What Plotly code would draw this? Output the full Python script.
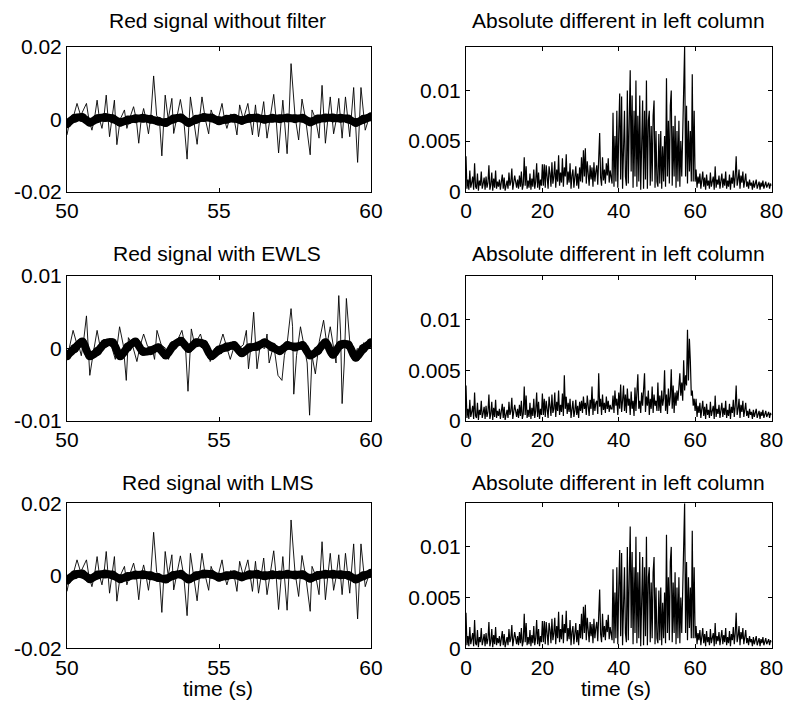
import numpy as np
import plotly.graph_objects as go
from plotly.subplots import make_subplots

# ---------------- data ----------------
# Left column: red signal (thin) between 50 s and 60 s
raw_t = [50.00, 50.10, 50.22, 50.33, 50.45, 50.64, 50.72, 50.82, 50.90, 50.99, 51.07, 51.15, 51.22, 51.29,
         51.40, 51.48, 51.56, 51.64, 51.75, 51.89, 51.97, 52.05, 52.19, 52.28, 52.36, 52.44, 52.52, 52.60,
         52.68, 52.76, 52.85, 52.95, 53.04, 53.12, 53.23, 53.33, 53.45, 53.51, 53.60, 53.73, 53.84, 53.95,
         54.06, 54.17, 54.28, 54.36, 54.44, 54.55, 54.66, 54.74, 54.85, 54.97, 55.10, 55.18, 55.26, 55.39,
         55.50, 55.59, 55.68, 55.80, 55.95, 56.10, 56.20, 56.30, 56.38, 56.47, 56.58, 56.68, 56.80, 56.88,
         56.96, 57.10, 57.24, 57.30, 57.37, 57.50, 57.62, 57.73, 57.85, 58.00, 58.06, 58.18, 58.29, 58.39,
         58.50, 58.58, 58.66, 58.77, 58.86, 58.94, 59.05, 59.16, 59.30, 59.43, 59.56, 59.67, 59.81, 59.92, 60.00]
raw_v = [-0.0043, 0.0000, 0.0010, 0.0044, 0.0010, 0.0044, 0.0000, -0.0030, 0.0000, 0.0053, 0.0000, -0.0025, 0.0010, 0.0067,
         -0.0048, 0.0010, 0.0053, -0.0070, 0.0000, 0.0026, -0.0025, 0.0000, 0.0035, 0.0000, -0.0066, 0.0000, 0.0030, 0.0000,
         -0.0040, 0.0010, 0.0120, 0.0010, 0.0000, -0.0101, 0.0067, 0.0000, 0.0058, -0.0039, 0.0000, 0.0055, 0.0000, -0.0110,
         0.0062, 0.0000, -0.0069, 0.0000, 0.0062, 0.0000, -0.0040, 0.0026, 0.0000, 0.0000, 0.0044, 0.0000, -0.0025, 0.0015,
         0.0000, -0.0043, 0.0040, 0.0000, 0.0044, -0.0043, 0.0040, -0.0048, 0.0000, 0.0049, -0.0052, 0.0000, 0.0069, 0.0000,
         -0.0093, 0.0053, -0.0095, 0.0000, 0.0154, 0.0010, -0.0057, 0.0056, 0.0000, -0.0098, 0.0026, 0.0000, -0.0052, 0.0094,
         -0.0066, 0.0000, 0.0062, -0.0040, 0.0000, 0.0058, -0.0052, 0.0062, -0.0048, 0.0088, -0.0119, 0.0088, -0.0030, 0.0000, 0.0010]

# smooth reference (thick line) sampled every 0.25 s
smooth_t = [50.00, 50.25, 50.50, 50.75, 51.00, 51.25, 51.50, 51.75, 52.00, 52.25, 52.50, 52.75, 53.00, 53.25,
            53.50, 53.75, 54.00, 54.25, 54.50, 54.75, 55.00, 55.25, 55.50, 55.75, 56.00, 56.25, 56.50, 56.75,
            57.00, 57.25, 57.50, 57.75, 58.00, 58.25, 58.50, 58.75, 59.00, 59.25, 59.50, 59.75, 60.00]
smooth_raw = [-0.0012, 0.0003, 0.0005, -0.0008, 0.0002, 0.0005, 0.0002, -0.0008, -0.0002, 0.0002, 0.0003, 0.0000,
              -0.0005, -0.0009, 0.0001, 0.0004, -0.0009, 0.0000, 0.0005, 0.0004, -0.0004, 0.0000, 0.0003, -0.0003,
              0.0003, 0.0004, 0.0000, 0.0003, 0.0002, 0.0004, 0.0002, 0.0003, -0.0007, 0.0001, 0.0004, 0.0004,
              0.0003, 0.0001, -0.0009, 0.0000, 0.0007]
smooth_ewls = [-0.0010, 0.0000, 0.0009, -0.0010, -0.0004, 0.0007, 0.0008, -0.0010, 0.0002, 0.0009, -0.0004, -0.0003,
               0.0001, -0.0009, 0.0004, 0.0010, 0.0000, 0.0008, 0.0006, -0.0010, -0.0002, 0.0002, 0.0004, -0.0006,
               0.0001, 0.0003, 0.0008, 0.0002, -0.0003, 0.0004, 0.0002, 0.0004, -0.0009, -0.0003, 0.0008, -0.0008,
               0.0005, 0.0005, -0.0012, 0.0000, 0.0008]

ewls_t = [50.00, 50.10, 50.20, 50.30, 50.40, 50.47, 50.55, 50.64, 50.70, 50.75, 50.85, 50.99, 51.10, 51.30,
          51.45, 51.59, 51.73, 51.85, 51.95, 52.02, 52.15, 52.30, 52.40, 52.52, 52.65, 52.80, 52.88, 52.96,
          53.10, 53.25, 53.34, 53.45, 53.60, 53.78, 53.90, 53.98, 54.09, 54.20, 54.39, 54.50, 54.60, 54.71,
          54.85, 55.00, 55.13, 55.25, 55.37, 55.50, 55.65, 55.80, 55.90, 55.97, 56.05, 56.14, 56.25, 56.35,
          56.50, 56.58, 56.65, 56.80, 56.94, 57.07, 57.15, 57.25, 57.37, 57.42, 57.46, 57.55, 57.68, 57.80,
          57.90, 57.98, 58.06, 58.17, 58.30, 58.44, 58.55, 58.66, 58.75, 58.85, 58.94, 59.00, 59.05, 59.12,
          59.19, 59.30, 59.43, 59.55, 59.65, 59.76, 59.88, 60.00]
ewls_v = [-0.0014, 0.0005, 0.0025, 0.0010, 0.0002, -0.0010, 0.0012, 0.0045, 0.0008, -0.0037, -0.0010, 0.0025, 0.0000, 0.0010,
          0.0005, -0.0015, 0.0030, 0.0005, -0.0044, 0.0015, 0.0005, -0.0018, 0.0003, 0.0020, 0.0003, 0.0000, -0.0015, 0.0025,
          0.0005, 0.0000, -0.0015, 0.0003, 0.0008, 0.0025, 0.0000, -0.0059, 0.0027, 0.0005, 0.0020, 0.0003, 0.0005, -0.0018,
          0.0000, 0.0002, 0.0020, 0.0002, -0.0015, 0.0003, 0.0000, 0.0005, 0.0025, -0.0028, 0.0003, 0.0050, -0.0028, 0.0003,
          0.0000, 0.0020, -0.0020, 0.0005, -0.0037, -0.0044, -0.0010, 0.0010, 0.0055, 0.0030, -0.0063, -0.0010, 0.0030, 0.0003,
          -0.0020, -0.0092, -0.0010, -0.0035, 0.0010, 0.0039, 0.0005, 0.0030, 0.0005, -0.0020, 0.0073, 0.0020, -0.0076, -0.0020,
          0.0069, 0.0010, -0.0015, 0.0000, -0.0005, 0.0008, 0.0002, 0.0008]

# LMS panel shows the same signal as the unfiltered one
lms_t = raw_t
lms_v = raw_v
smooth_lms = smooth_raw

# Right column: absolute difference in units of 1e-3, sampled every 0.25 s from 0 to 80 s
absdiff_raw_milli = [
    # 0 - 20 s
    3.5, 0.3, 1.2, 0.2, 2.1, 0.4, 0.9, 1.5, 0.2, 2.8, 0.5, 0.3, 1.8, 0.1, 1.1, 0.6, 2.0, 0.3, 0.8, 1.4,
    0.2, 1.5, 0.4, 0.9, 2.6, 0.2, 0.7, 1.9, 0.1, 1.3, 0.4, 2.1, 0.3, 1.0, 0.5, 1.2, 0.2, 0.9, 1.7, 0.3,
    1.4, 0.1, 0.8, 1.1, 0.3, 1.9, 0.6, 1.0, 2.3, 0.2, 0.9, 1.6, 1.0, 0.4, 1.2, 0.3, 1.6, 0.5, 2.0, 0.2,
    0.7, 3.4, 0.6, 2.5, 0.3, 1.1, 0.4, 1.8, 0.2, 1.3, 0.5, 2.2, 0.3, 1.0, 2.8, 0.4, 1.9, 0.2, 1.2, 0.6,
    2.7,
    # 20.25 - 30 s
    0.6, 2.7, 0.4, 2.6, 1.2, 0.3, 2.5, 1.8, 0.5, 2.9, 0.8, 1.5, 3.0, 0.4, 2.2, 1.0, 3.6, 0.6, 1.9, 0.9,
    3.3, 0.5, 2.4, 1.5, 3.7, 0.7, 2.0, 0.9, 2.8, 0.3, 1.6, 2.2, 0.4, 1.2, 2.5, 0.6, 1.8, 0.3, 2.4, 1.0,
    # 30.25 - 38 s
    3.4, 0.9, 4.1, 1.5, 4.3, 0.8, 3.0, 1.8, 0.6, 2.6, 1.2, 2.4, 0.5, 2.9, 1.0, 2.0,
    2.6, 0.7, 3.2, 5.8, 1.4, 0.6, 3.4, 1.1, 2.2, 0.8, 2.8, 1.6, 3.3, 0.9, 2.1, 1.2,
    # 38.25 - 50 s
    0.8, 7.8, 0.5, 5.5, 1.0, 8.0, 0.4, 6.0, 9.7, 1.2, 9.4, 0.3, 6.5, 8.0, 1.5, 0.6, 10.0, 0.8, 7.0, 12.0,
    2.0, 9.5, 0.4, 8.0, 1.5, 11.0, 0.5, 7.5, 1.0, 9.5, 0.2, 6.0, 9.0, 0.3, 8.0, 1.2, 11.0, 0.3, 7.0, 8.0,
    0.6, 6.5, 1.0, 7.5, 9.0, 0.4, 6.0, 1.0,
    # 50.25 - 60 s
    0.5, 5.7, 0.8, 6.0, 0.3, 4.5, 1.0, 5.5, 0.5, 11.2, 1.5, 7.0, 0.8, 8.5, 10.0, 0.6, 6.5, 1.5, 7.5, 0.4,
    6.0, 1.0, 7.0, 0.5, 5.0, 1.5, 6.5, 9.5, 14.3, 1.5, 8.5, 0.8, 7.0, 2.0, 6.0, 1.0, 11.6, 1.0, 8.0, 1.0,
    # 60.25 - 80 s
    2.2, 0.4, 1.5, 0.8, 1.8, 0.3, 1.2, 2.0, 0.5, 1.4, 0.2, 1.7, 0.6, 1.1, 0.3, 1.9, 0.5, 0.9, 1.5, 0.2,
    2.5, 0.4, 1.2, 0.7, 1.6, 0.3, 1.0, 1.8, 0.4, 1.3, 0.6, 2.0, 0.3, 1.1, 0.5, 1.7, 0.2, 1.4, 0.8, 2.1,
    0.4, 1.5, 3.5, 0.6, 1.2, 2.2, 0.3, 1.6, 0.9, 2.0, 0.4, 1.3, 1.8, 0.5, 1.0, 0.3, 1.2, 0.6, 0.9, 0.2,
    1.1, 0.4, 0.8, 1.2, 0.3, 0.7, 1.0, 0.2, 0.9, 0.5, 1.1, 0.3, 0.8, 1.0, 0.4, 0.7, 0.9, 0.3, 0.8, 0.6]
absdiff_ewls_milli = [
    # 0 - 20 s
    3.5, 0.3, 1.2, 0.2, 2.1, 0.4, 0.9, 1.5, 0.2, 2.8, 0.5, 0.3, 1.8, 0.1, 1.1, 0.6, 2.0, 0.3, 0.8, 1.4,
    0.2, 1.5, 0.4, 0.9, 2.6, 0.2, 0.7, 1.9, 0.1, 1.3, 0.4, 2.1, 0.3, 1.0, 0.5, 1.2, 0.2, 0.9, 1.7, 0.3,
    1.4, 0.1, 0.8, 1.1, 0.3, 1.9, 0.6, 1.0, 2.3, 0.2, 0.9, 1.6, 1.0, 0.4, 1.2, 0.3, 1.6, 0.5, 2.0, 0.2,
    0.7, 3.4, 0.6, 2.5, 0.3, 1.1, 0.4, 1.8, 0.2, 1.3, 0.5, 2.2, 0.3, 1.0, 2.8, 0.4, 1.9, 0.2, 1.2, 0.6,
    2.7,
    # 20.25 - 30 s
    0.6, 2.2, 0.4, 2.0, 1.0, 0.3, 2.4, 1.5, 0.5, 2.6, 0.8, 1.2, 2.8, 0.4, 1.9, 1.0, 3.0, 0.6, 1.6, 0.9,
    2.7, 0.5, 4.5, 1.2, 2.4, 0.7, 1.8, 0.9, 2.2, 0.3, 1.4, 2.0, 0.4, 1.0, 2.1, 0.6, 1.5, 0.3, 1.9, 1.0,
    # 30.25 - 38 s
    2.0, 0.8, 2.4, 1.2, 1.8, 0.6, 2.5, 1.0, 0.5, 2.1, 1.2, 3.4, 0.6, 2.2, 1.0, 1.8,
    2.0, 0.7, 4.7, 1.4, 2.2, 0.6, 2.6, 1.1, 1.8, 0.8, 2.4, 1.2, 2.0, 0.9, 1.6, 1.2,
    # 38.25 - 50 s
    1.2, 2.5, 0.8, 3.0, 1.5, 2.2, 0.6, 2.8, 1.2, 3.6, 0.9, 2.0, 3.5, 1.0, 2.6, 0.8, 3.2, 1.5, 2.2, 0.6,
    2.9, 1.2, 2.0, 0.5, 3.3, 1.0, 2.6, 4.6, 1.2, 2.0, 0.8, 2.8, 1.5, 3.6, 4.7, 0.9, 2.4, 1.5, 3.0, 0.6,
    2.2, 1.2, 3.4, 0.8, 2.6, 1.5, 2.0, 1.0,
    # 50.25 - 60 s
    3.8, 1.0, 2.5, 0.8, 3.0, 1.5, 2.2, 5.0, 1.0, 2.6, 0.7, 3.2, 1.5, 2.4, 5.1, 1.2, 3.5, 0.8, 2.8, 1.5,
    3.0, 2.0, 3.6, 4.7, 2.5, 3.8, 2.0, 6.0, 3.0, 4.5, 3.5, 9.0, 4.0, 8.1, 5.9, 2.5, 3.0, 1.5, 2.2, 1.0,
    # 60.25 - 80 s
    2.2, 0.4, 1.5, 0.8, 1.8, 0.3, 1.2, 2.0, 0.5, 1.4, 0.2, 1.7, 0.6, 1.1, 0.3, 1.9, 0.5, 0.9, 1.5, 0.2,
    2.5, 0.4, 1.2, 0.7, 1.6, 0.3, 1.0, 1.8, 0.4, 1.3, 0.6, 2.0, 0.3, 1.1, 0.5, 1.7, 0.2, 1.4, 0.8, 2.1,
    0.4, 1.5, 3.5, 0.6, 1.2, 2.2, 0.3, 1.6, 0.9, 2.0, 0.4, 1.3, 1.8, 0.5, 1.0, 0.3, 1.2, 0.6, 0.9, 0.2,
    1.1, 0.4, 0.8, 1.2, 0.3, 0.7, 1.0, 0.2, 0.9, 0.5, 1.1, 0.3, 0.8, 1.0, 0.4, 0.7, 0.9, 0.3, 0.8, 0.6]
absdiff_lms_milli = absdiff_raw_milli
diff_step_s = 0.25

left_titles = ["Red signal without filter", "Red signal with EWLS", "Red signal with LMS"]
right_title = "Absolute different in left column"
left_yticks = [[-0.02, 0, 0.02], [-0.01, 0, 0.01], [-0.02, 0, 0.02]]
left_yticktext = [["-0.02", "0", "0.02"], ["-0.01", "0", "0.01"], ["-0.02", "0", "0.02"]]
right_yticks = [0, 0.005, 0.01]
right_yticktext = ["0", "0.005", "0.01"]
left_xticks = [50, 55, 60]
right_xticks = [0, 20, 40, 60, 80]
xlabel = "time (s)"

# ---------------- figure ----------------
W, H = 785, 716
FONT = "Liberation Sans, Arial, sans-serif"
FS_TICK = 21
FS_TITLE = 21

fig = make_subplots(rows=3, cols=2)

left_sets = [(raw_t, raw_v, smooth_raw), (ewls_t, ewls_v, smooth_ewls), (lms_t, lms_v, smooth_lms)]
right_sets = [absdiff_raw_milli, absdiff_ewls_milli, absdiff_lms_milli]

for i in range(3):
    t, v, s = left_sets[i]
    fig.add_trace(go.Scatter(x=t, y=v, mode="lines", line=dict(color="black", width=0.9),
                             showlegend=False), row=i + 1, col=1)
    fig.add_trace(go.Scatter(x=smooth_t, y=s, mode="lines+markers",
                             line=dict(color="black", width=8, shape="spline"),
                             marker=dict(color="black", size=9), showlegend=False), row=i + 1, col=1)
    vals = [m / 1000.0 for m in right_sets[i]]
    tt = list(np.arange(len(vals)) * diff_step_s)
    fig.add_trace(go.Scatter(x=tt, y=vals, mode="lines", line=dict(color="black", width=1.2),
                             showlegend=False), row=i + 1, col=2)

# pixel geometry of the plot boxes
xl = (67, 371)
xr = (466, 771.5)
rows_px = [(47, 191.7), (276, 421), (503.3, 648.3)]

def px_x(a, b):
    return [a / W, b / W]

def px_y(top, bot):
    return [1 - bot / H, 1 - top / H]

axis_common = dict(showline=True, linecolor="black", linewidth=1, mirror="ticks", ticks="inside",
                   ticklen=4, tickcolor="black", showgrid=False, zeroline=False, automargin=False,
                   tickfont=dict(family=FONT, size=FS_TICK, color="black"))

for i in range(3):
    top, bot = rows_px[i]
    fig.update_xaxes(domain=px_x(*xl), range=[50, 60], tickvals=left_xticks,
                     ticktext=[str(x) for x in left_xticks], row=i + 1, col=1, **axis_common)
    fig.update_yaxes(domain=px_y(top, bot), range=left_yticks[i][::2], tickvals=left_yticks[i],
                     ticktext=left_yticktext[i], row=i + 1, col=1, **axis_common)
    fig.update_xaxes(domain=px_x(*xr), range=[0, 80], tickvals=right_xticks,
                     ticktext=[str(x) for x in right_xticks], row=i + 1, col=2, **axis_common)
    fig.update_yaxes(domain=px_y(top, bot), range=[0, 0.0143], tickvals=right_yticks,
                     ticktext=right_yticktext, row=i + 1, col=2, **axis_common)

title_y_px = [20, 253, 482]
annotations = []
for i in range(3):
    annotations.append(dict(text=left_titles[i], x=217 / W, y=1 - title_y_px[i] / H, xref="paper", yref="paper",
                            showarrow=False, xanchor="center", yanchor="middle",
                            font=dict(family=FONT, size=FS_TITLE, color="black")))
    annotations.append(dict(text=right_title, x=618.5 / W, y=1 - title_y_px[i] / H, xref="paper", yref="paper",
                            showarrow=False, xanchor="center", yanchor="middle",
                            font=dict(family=FONT, size=FS_TITLE, color="black")))
for cx in (218, 616):
    annotations.append(dict(text=xlabel, x=cx / W, y=1 - 688 / H, xref="paper", yref="paper",
                            showarrow=False, xanchor="center", yanchor="middle",
                            font=dict(family=FONT, size=FS_TITLE, color="black")))

fig.update_layout(width=W, height=H, margin=dict(l=0, r=0, t=0, b=0), autosize=False,
                  paper_bgcolor="white", plot_bgcolor="white", annotations=annotations,
                  font=dict(family=FONT, size=FS_TICK, color="black"))

fig.write_html("out.html", config={"displayModeBar": False})
